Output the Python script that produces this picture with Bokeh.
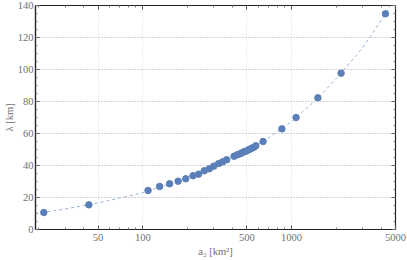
from bokeh.plotting import figure
from bokeh.models import (Range1d, FixedTicker, LogAxis, LinearAxis, ColumnDataSource,
                          CustomJSTickFormatter)
from bokeh.embed import file_html
from bokeh.resources import INLINE

# data
area = [21.6, 43.4, 108.5, 129.8, 151.4, 172.7, 194.4, 217.5, 237.3, 259.0, 279.8,
        300.2, 324.1, 344.6, 366.4, 410.6, 431.9, 450.2, 464.2, 478.6, 493.5, 508.9,
        524.8, 541.1, 558.0, 575.4, 643.9, 861.6, 1073, 1504, 2154, 4280]
lam = [10.6, 15.4, 24.4, 26.9, 28.6, 30.2, 31.7, 33.6, 34.6, 36.7, 37.9,
       39.6, 41.25, 42.3, 43.6, 45.8, 46.7, 47.3, 47.9, 48.6, 48.9, 49.6,
       50.2, 50.8, 51.4, 52.3, 55.0, 62.9, 70.0, 82.3, 97.7, 134.8]

fit_area = [19, 30, 50, 100, 150, 200, 300, 500, 700, 1000, 1500, 2000, 3000, 4300, 4650]
fit_lam = [10.0, 12.8, 16.6, 23.0, 28.3, 32.4, 39.4, 49.4, 57.2, 67.5, 82.0, 94.3, 113.5, 135.0, 140.5]

x_major = [50, 100, 500, 1000, 5000]
x_minor = [20, 30, 40, 60, 70, 80, 90, 200, 300, 400, 600, 700, 800, 900,
           2000, 3000, 4000]
y_major = [0, 20, 40, 60, 80, 100, 120, 140]
y_minor = [v for v in range(0, 141, 5)]

FONT = "Liberation Serif"
GRAY = "#707070"

p = figure(width=407, height=260, x_axis_type="log",
           x_range=Range1d(19, 5000), y_range=Range1d(0, 140),
           output_backend="svg", toolbar_location=None,
           min_border_left=34, min_border_right=12, min_border_top=5,
           min_border_bottom=31,
           x_axis_label="a\u2082 [km\u00b2]", y_axis_label="\u03bb [km]")
p.styles = {"position": "absolute", "left": "0px", "top": "0px"}
p.background_fill_color = "white"
p.border_fill_color = "white"
p.outline_line_color = "#222222"
p.outline_line_width = 1.2

xt = FixedTicker(ticks=x_major, minor_ticks=x_minor)
yt = FixedTicker(ticks=y_major, minor_ticks=y_minor)

for ax in (p.xaxis[0], p.yaxis[0]):
    ax.major_label_text_font = FONT
    ax.major_label_text_font_size = "10.5px"
    ax.major_label_text_color = GRAY
    ax.axis_label_text_font = FONT
    ax.axis_label_text_font_size = "10.5px"
    ax.axis_label_text_color = GRAY
    ax.axis_label_text_font_style = "normal"
    ax.axis_line_color = "#222222"
    ax.axis_line_width = 1.2
    ax.major_tick_out = 0
    ax.major_tick_in = 4
    ax.minor_tick_out = 0
    ax.minor_tick_in = 2
    ax.major_tick_line_color = "#555555"
    ax.minor_tick_line_color = "#777777"

p.yaxis[0].major_label_standoff = 2
p.yaxis[0].axis_label_standoff = 0
p.xaxis[0].major_label_standoff = 4
p.xaxis[0].axis_label_standoff = 2

p.xaxis[0].ticker = xt
p.yaxis[0].ticker = yt

top = LogAxis(ticker=xt, formatter=CustomJSTickFormatter(code="return '';"))
right = LinearAxis(ticker=yt, formatter=CustomJSTickFormatter(code="return '';"))
for ax in (top, right):
    ax.major_label_text_font_size = "1px"
    ax.major_label_standoff = 0
    ax.axis_line_color = None
    ax.major_tick_out = 0
    ax.major_tick_in = 4
    ax.minor_tick_out = 0
    ax.minor_tick_in = 2
    ax.major_tick_line_color = "#555555"
    ax.minor_tick_line_color = "#777777"
p.add_layout(top, "above")
p.add_layout(right, "right")

p.xgrid.ticker = xt
p.ygrid.ticker = yt
p.xgrid.grid_line_color = "#d9d9d9"
p.xgrid.grid_line_dash = "1 2"
p.ygrid.grid_line_color = "#a8a8a8"
p.ygrid.grid_line_dash = "1 2"

p.line(fit_area, fit_lam, line_color="#98b0d8", line_width=1, line_dash="3 3")
src = ColumnDataSource(dict(a=area, l=lam))
p.scatter("a", "l", source=src, size=6.5, fill_color="#5b7fb9",
          line_color="#5b7fb9")

open("out.html", "w").write(file_html(p, INLINE))
